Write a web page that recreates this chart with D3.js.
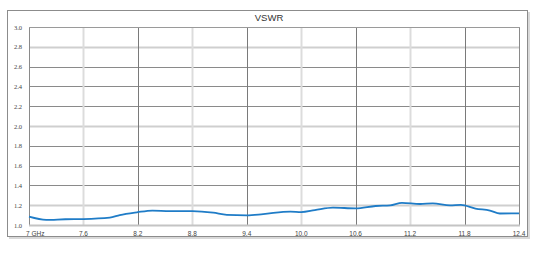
<!DOCTYPE html>
<html>
<head>
<meta charset="utf-8">
<script src="https://cdn.jsdelivr.net/npm/d3@7"></script>
<style>
  html, body { margin: 0; padding: 0; background: #fff; }
  svg { display: block; }
</style>
</head>
<body>
<svg id="chart" width="542" height="253"></svg>
<script>
// Data (frequency in GHz, VSWR)
const freqs = [7.0, 7.19, 7.4, 7.6, 7.89, 8.0, 8.19, 8.36, 8.55, 8.8, 9.03, 9.18, 9.4, 9.58, 9.88, 10.0, 10.15, 10.35, 10.6, 10.82, 10.98, 11.11, 11.31, 11.45, 11.64, 11.76, 11.92, 12.08, 12.19, 12.4];
const vswr  = [1.084, 1.052, 1.058, 1.06, 1.074, 1.10, 1.128, 1.146, 1.14, 1.14, 1.124, 1.102, 1.098, 1.11, 1.136, 1.13, 1.15, 1.175, 1.168, 1.192, 1.198, 1.224, 1.212, 1.218, 1.198, 1.204, 1.166, 1.146, 1.116, 1.118];
const xTicks = [7.0, 7.6, 8.2, 8.8, 9.4, 10.0, 10.6, 11.2, 11.8, 12.4];
const xTickLabels = ["7 GHz", "7.6", "8.2", "8.8", "9.4", "10.0", "10.6", "11.2", "11.8", "12.4"];
const yTicks = [1.0, 1.2, 1.4, 1.6, 1.8, 2.0, 2.2, 2.4, 2.6, 2.8, 3.0];
const title = "VSWR";

const svg = d3.select("#chart");
const W = 542, H = 253;
const plot = { left: 29, right: 519, top: 27, bottom: 225 };

const x = d3.scaleLinear().domain([7.0, 12.4]).range([plot.left, plot.right]);
const y = d3.scaleLinear().domain([1.0, 3.0]).range([plot.bottom, plot.top]);

// outer frame with shadow
svg.append("rect").attr("x", 9).attr("y", 12).attr("width", 521).attr("height", 227)
  .attr("fill", "#d9d9d9");
svg.append("rect").attr("x", 7.5).attr("y", 10.5).attr("width", 520).attr("height", 226)
  .attr("fill", "#fff").attr("stroke", "#8c8c8c").attr("stroke-width", 1);

// title
svg.append("text").attr("x", 269).attr("y", 21).attr("text-anchor", "middle")
  .attr("font-family", "Liberation Sans, Arial, sans-serif").attr("font-size", 9.5)
  .attr("fill", "#333").text(title);

// y grid
const lightY = new Set(["1.2", "2.0", "2.8"]);
yTicks.forEach(t => {
  const k = t.toFixed(1);
  if (t === 1.0) return;
  const light = lightY.has(k);
  svg.append("line")
    .attr("x1", plot.left).attr("x2", plot.right)
    .attr("y1", Math.round(y(t)) + 0.5).attr("y2", Math.round(y(t)) + 0.5)
    .attr("stroke", light ? "#cfcfcf" : "#8a8a8a")
    .attr("stroke-width", light ? 2 : 1);
});
// x grid
const darkX = new Set(["8.2", "9.4", "10.6", "11.8"]);
xTicks.forEach(t => {
  if (t === 7.0 || t === 12.4) return;
  const dark = darkX.has(t.toFixed(1));
  svg.append("line")
    .attr("y1", plot.top).attr("y2", plot.bottom)
    .attr("x1", Math.round(x(t)) + 0.5).attr("x2", Math.round(x(t)) + 0.5)
    .attr("stroke", dark ? "#7a7a7a" : "#dcdcdc")
    .attr("stroke-width", dark ? 1 : 2);
});
// plot borders
svg.append("line").attr("x1", plot.left + 0.5).attr("x2", plot.left + 0.5)
  .attr("y1", plot.top).attr("y2", plot.bottom).attr("stroke", "#8a8a8a");
svg.append("line").attr("x1", plot.right + 0.5).attr("x2", plot.right + 0.5)
  .attr("y1", plot.top).attr("y2", plot.bottom).attr("stroke", "#8a8a8a");
svg.append("line").attr("x1", plot.left).attr("x2", plot.right + 1)
  .attr("y1", plot.top + 0.5).attr("y2", plot.top + 0.5).attr("stroke", "#9a9a9a");
svg.append("line").attr("x1", plot.left).attr("x2", plot.right + 1)
  .attr("y1", plot.bottom + 0.5).attr("y2", plot.bottom + 0.5)
  .attr("stroke", "#c4c4c4").attr("stroke-width", 2);

// y axis labels
const fmt = d3.format(".1f");
svg.append("g").selectAll("text").data(yTicks).join("text")
  .attr("x", 22).attr("y", d => y(d) + 2.5)
  .attr("text-anchor", "end")
  .attr("font-family", "Liberation Serif, serif").attr("font-size", 6.5)
  .attr("fill", "#444").text(d => fmt(d));

// x axis labels
svg.append("g").selectAll("text").data(xTicks).join("text")
  .attr("x", (d, i) => i === 0 ? 26 : x(d))
  .attr("y", 236)
  .attr("text-anchor", (d, i) => i === 0 ? "start" : "middle")
  .attr("font-family", "Liberation Sans, Arial, sans-serif").attr("font-size", 6.5)
  .attr("fill", "#444").text((d, i) => xTickLabels[i]);

// line
const pts = freqs.map((f, i) => [f, vswr[i]]);
const line = d3.line().x(d => x(d[0])).y(d => y(d[1])).curve(d3.curveMonotoneX);
svg.append("path").datum(pts).attr("d", line)
  .attr("fill", "none").attr("stroke", "#1f7cc7").attr("stroke-width", 1.8);
</script>
</body>
</html>
